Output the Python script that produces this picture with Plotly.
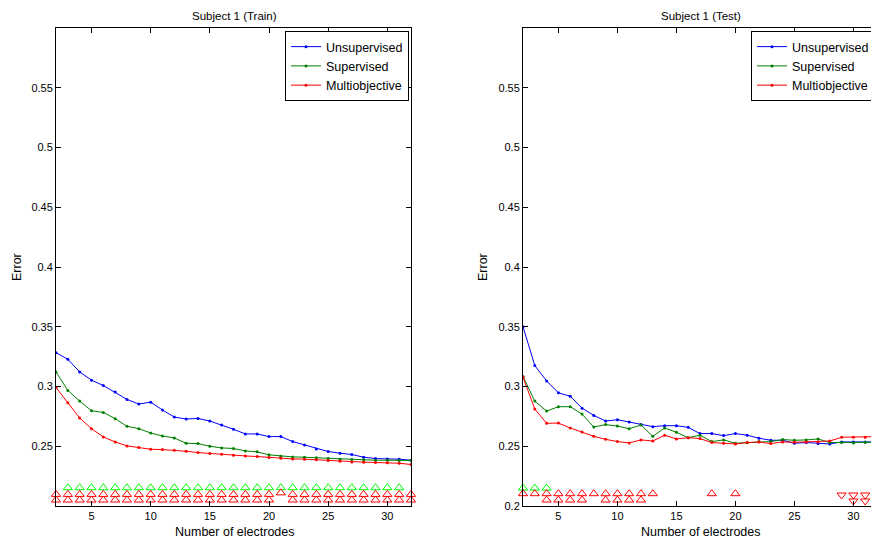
import plotly.graph_objects as go

electrodes = list(range(2, 33))

train_unsup = [0.3283, 0.3228, 0.3122, 0.3053, 0.3008, 0.2953, 0.2892, 0.2853, 0.2869, 0.2803,
               0.2744, 0.2728, 0.2733, 0.2711, 0.2678, 0.2642, 0.2603, 0.2603, 0.2581, 0.2581,
               0.2539, 0.2511, 0.2478, 0.2456, 0.2442, 0.2431, 0.2408, 0.2397, 0.2394, 0.2392, 0.2383]
train_sup = [0.3122, 0.2967, 0.2878, 0.2797, 0.2783, 0.2731, 0.2667, 0.2647, 0.2611, 0.2586,
             0.2569, 0.2525, 0.2522, 0.2500, 0.2486, 0.2481, 0.2461, 0.2453, 0.2428, 0.2417,
             0.2411, 0.2408, 0.2403, 0.2397, 0.2392, 0.2389, 0.2386, 0.2383, 0.2383, 0.2381, 0.2381]
train_multi = [0.2992, 0.2864, 0.2736, 0.2647, 0.2578, 0.2536, 0.2503, 0.2489, 0.2475, 0.2472,
               0.2467, 0.2458, 0.2447, 0.2439, 0.2433, 0.2425, 0.2419, 0.2414, 0.2406, 0.2400,
               0.2394, 0.2392, 0.2386, 0.2381, 0.2375, 0.2369, 0.2367, 0.2364, 0.2361, 0.2358, 0.2347]

test_unsup = [0.3500, 0.3175, 0.3047, 0.2947, 0.2919, 0.2819, 0.2758, 0.2711, 0.2722, 0.2703,
              0.2681, 0.2664, 0.2672, 0.2672, 0.2658, 0.2606, 0.2606, 0.2589, 0.2606, 0.2592,
              0.2567, 0.2550, 0.2550, 0.2525, 0.2531, 0.2522, 0.2519, 0.2536, 0.2536, 0.2536, 0.2536]
test_sup = [0.3083, 0.2878, 0.2794, 0.2831, 0.2831, 0.2769, 0.2661, 0.2681, 0.2669, 0.2647,
            0.2678, 0.2583, 0.2653, 0.2617, 0.2572, 0.2592, 0.2539, 0.2553, 0.2525, 0.2531,
            0.2539, 0.2539, 0.2556, 0.2550, 0.2553, 0.2561, 0.2531, 0.2531, 0.2528, 0.2533, 0.2533]
test_multi = [0.3078, 0.2811, 0.2692, 0.2694, 0.2653, 0.2619, 0.2583, 0.2558, 0.2539, 0.2528,
              0.2553, 0.2544, 0.2592, 0.2561, 0.2572, 0.2564, 0.2531, 0.2525, 0.2519, 0.2531,
              0.2536, 0.2522, 0.2536, 0.2533, 0.2536, 0.2536, 0.2544, 0.2575, 0.2575, 0.2575, 0.2581]

# significance markers (x positions and row levels)
train_green_up_x = list(range(3, 32))
train_green_up_y = 0.2153
train_red_up1_x = [x for x in range(2, 33) if x != 21]
train_red_up1_y = 0.2097
train_red_up1b_x = [21]
train_red_up1b_y = 0.2110
train_red_up2_x = [x for x in range(2, 33) if x != 21]
train_red_up2_y = 0.2050

test_green_up_x = [2, 3, 4]
test_green_up_y = 0.2150
test_red_up1_x = [2, 3, 4, 5, 6, 7, 8, 9, 10, 11, 12, 13, 18, 20]
test_red_up1_y = 0.2103
test_red_up2_x = [4, 5, 6, 7, 9, 10, 11, 12]
test_red_up2_y = 0.2050
test_red_dn1_x = [29, 30, 31, 32]
test_red_dn1_y = 0.2092
test_red_dn2_x = [30, 31, 32]
test_red_dn2_y = 0.2042

series_names = ["Unsupervised", "Supervised", "Multiobjective"]
line_colors = ["#0000FF", "#008000", "#FF0000"]

FONT = "Liberation Sans, Arial, Helvetica, sans-serif"

fig = go.Figure()

for data, xa, ya, leg in [((train_unsup, train_sup, train_multi), "x", "y", "legend"),
                          ((test_unsup, test_sup, test_multi), "x2", "y2", "legend2")]:
    for vals, name, col in zip(data, series_names, line_colors):
        fig.add_trace(go.Scatter(
            x=electrodes, y=vals, name=name, mode="lines+markers",
            line=dict(color=col, width=1),
            marker=dict(color=col, size=3, symbol="circle"),
            xaxis=xa, yaxis=ya, legend=leg, showlegend=True))


def add_markers(xs, yv, color, symbol, xa, ya):
    fig.add_trace(go.Scatter(
        x=xs, y=[yv] * len(xs), mode="markers", showlegend=False,
        marker=dict(color=color, size=8, symbol=symbol, line=dict(width=1, color=color)),
        cliponaxis=False, xaxis=xa, yaxis=ya))


add_markers(train_green_up_x, train_green_up_y, "#00FF00", "triangle-up-open", "x", "y")
add_markers(train_red_up1_x, train_red_up1_y, "#FF0000", "triangle-up-open", "x", "y")
add_markers(train_red_up1b_x, train_red_up1b_y, "#FF0000", "triangle-up-open", "x", "y")
add_markers(train_red_up2_x, train_red_up2_y, "#FF0000", "triangle-up-open", "x", "y")

add_markers(test_green_up_x, test_green_up_y, "#00FF00", "triangle-up-open", "x2", "y2")
add_markers(test_red_up1_x, test_red_up1_y, "#FF0000", "triangle-up-open", "x2", "y2")
add_markers(test_red_up2_x, test_red_up2_y, "#FF0000", "triangle-up-open", "x2", "y2")
add_markers(test_red_dn1_x, test_red_dn1_y, "#FF0000", "triangle-down-open", "x2", "y2")
add_markers(test_red_dn2_x, test_red_dn2_y, "#FF0000", "triangle-down-open", "x2", "y2")

# page body has an 8px margin; work in page pixels and convert
OFF = 8
W, H = 879 - OFF, 544 - OFF
L_LEFT, L_RIGHT = 56 - OFF, 411 - OFF
R_LEFT, R_RIGHT = 523 - OFF, 877 - OFF
P_TOP, P_BOT = 28 - OFF, 506 - OFF
ML, MR, MT, MB = L_LEFT, W - R_RIGHT, P_TOP, H - P_BOT
PW = W - ML - MR
PH = H - MT - MB


def px(xp):
    return (xp - OFF - ML) / PW


def py(yp):
    return 1 - (yp - OFF - MT) / PH


axis_common = dict(showline=True, linecolor="black", linewidth=1, mirror="allticks",
                   ticks="inside", ticklen=5, tickcolor="black", showgrid=False,
                   zeroline=False, tickfont=dict(family=FONT, size=11, color="black"))

x_ticks = [5, 10, 15, 20, 25, 30]
y_ticks_train = [0.25, 0.3, 0.35, 0.4, 0.45, 0.5, 0.55]
y_ticks_test = [0.2, 0.25, 0.3, 0.35, 0.4, 0.45, 0.5, 0.55]

fig.update_layout(
    width=W, height=H,
    margin=dict(l=ML, r=MR, t=MT, b=MB, autoexpand=False),
    paper_bgcolor="white", plot_bgcolor="white",
    font=dict(family=FONT, size=11, color="black"),
    xaxis=dict(domain=[0, px(411)], range=[2, 32], tickvals=x_ticks,
               ticktext=[str(v) for v in x_ticks], anchor="y", **axis_common),
    yaxis=dict(domain=[0, 1], range=[0.2, 0.6], tickvals=y_ticks_train,
               ticktext=[f"{v:g}" for v in y_ticks_train], anchor="x", **axis_common),
    xaxis2=dict(domain=[px(523), 1], range=[2, 32], tickvals=x_ticks,
                ticktext=[str(v) for v in x_ticks], anchor="y2", **axis_common),
    yaxis2=dict(domain=[0, 1], range=[0.2, 0.6], tickvals=y_ticks_test,
                ticktext=[f"{v:g}" for v in y_ticks_test], anchor="x2", **axis_common),
    legend=dict(x=px(409), y=py(31), xanchor="right", yanchor="top",
                bgcolor="white", bordercolor="black", borderwidth=1,
                font=dict(family=FONT, size=12.5), tracegroupgap=0),
    legend2=dict(x=px(875), y=py(31), xanchor="right", yanchor="top",
                 bgcolor="white", bordercolor="black", borderwidth=1,
                 font=dict(family=FONT, size=12.5), tracegroupgap=0),
    showlegend=True,
)

left_c = px((56 + 411) / 2 + 1)
right_c = px((523 + 877) / 2 + 1)
for c, t in ((left_c, "Subject 1 (Train)"), (right_c, "Subject 1 (Test)")):
    fig.add_annotation(x=c, y=py(15.5), xref="paper", yref="paper",
                       text=t, showarrow=False, font=dict(family=FONT, size=11.5),
                       xanchor="center", yanchor="middle")
for c in (left_c, right_c):
    fig.add_annotation(x=c, y=py(532), xref="paper", yref="paper",
                       text="Number of electrodes", showarrow=False,
                       font=dict(family=FONT, size=12.5), xanchor="center", yanchor="middle")
for xp in (17, 483):
    fig.add_annotation(x=px(xp), y=py(267), xref="paper", yref="paper",
                       text="Error", showarrow=False, textangle=-90,
                       font=dict(family=FONT, size=12.5), xanchor="center", yanchor="middle")

fig.write_html("out.html")
